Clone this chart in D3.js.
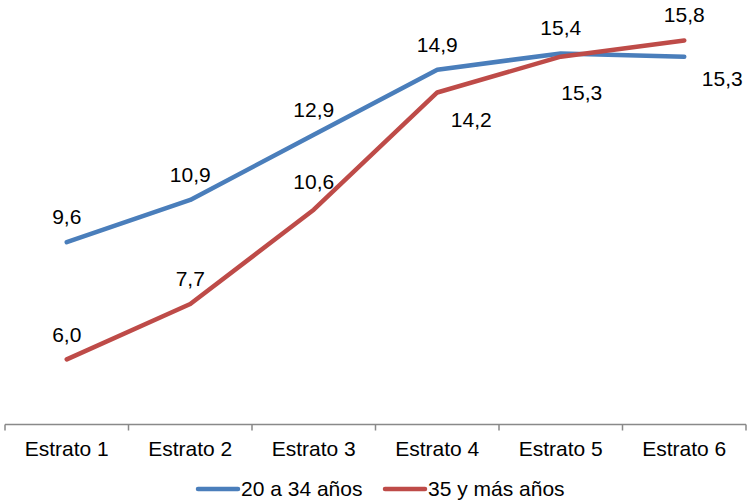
<!DOCTYPE html>
<html><head><meta charset="utf-8">
<script src="https://cdn.jsdelivr.net/npm/d3@7"></script>
<style>body{margin:0;background:#fff}svg{display:block;font-family:"Liberation Sans",Arial,sans-serif}</style>
</head><body><svg id="c" width="747" height="501"></svg>
<script>
const categories = ["Estrato 1","Estrato 2","Estrato 3","Estrato 4","Estrato 5","Estrato 6"];
const seriesNames = ["20 a 34 años","35 y más años"];
const young = [9.6, 10.9, 12.9, 14.9, 15.4, 15.3];
const older = [6.0, 7.7, 10.6, 14.2, 15.3, 15.8];
const colors = ["#4A7EBB","#BE4B48"];
// label placement offsets (dx, dy relative to point), per series
const labelOffsets = [
  [[0,-18],[0,-18],[0,-18],[0,-18],[0,-18],[38,29]],
  [[0,-17],[0,-18],[0,-21],[34,35],[21,43],[0,-18]]
];
const FS = 21;

const svg = d3.select("#c");
const x = d3.scaleBand().domain(categories).range([5,746]);
const y = d3.scaleLinear().domain([4,16]).range([424.5,33.9]);

const axis = svg.append("g").attr("transform","translate(0,424.5)")
  .call(d3.axisBottom(x).tickSize(0).tickPadding(0));
axis.attr("font-size",FS).attr("font-family","Liberation Sans, Arial, sans-serif");
axis.select(".domain").attr("stroke","#898989").attr("stroke-width",1.5).attr("d","M5,0H746");
axis.selectAll(".tick text").attr("fill","#000").attr("dy",null).attr("y",31.5);
// boundary tick marks
const bounds = categories.map(c=>x(c)).concat([x.range()[1]]);
axis.selectAll("line.bt").data(bounds).enter().append("line").attr("class","bt")
  .attr("x1",d=>d).attr("x2",d=>d).attr("y1",0).attr("y2",6).attr("stroke","#898989").attr("stroke-width",1.5);

const cx = c => x(c) + x.bandwidth()/2;
const line = d3.line().x((d,i)=>cx(categories[i])).y(d=>y(d));
[young, older].forEach((s,k)=>{
  svg.append("path").datum(s).attr("d",line).attr("fill","none")
    .attr("stroke",colors[k]).attr("stroke-width",4.5).attr("stroke-linejoin","round").attr("stroke-linecap","round");
});
[young, older].forEach((s,k)=>{
  svg.append("g").selectAll("text").data(s).enter().append("text")
    .attr("x",(d,i)=>cx(categories[i])+labelOffsets[k][i][0])
    .attr("y",(d,i)=>y(d)+labelOffsets[k][i][1])
    .attr("text-anchor","middle").attr("font-size",FS).attr("fill","#000")
    .text(d=>d.toFixed(1).replace(".",","));
});

// legend
const leg = svg.append("g");
const legX = [198, 385];
seriesNames.forEach((n,k)=>{
  leg.append("line").attr("x1",legX[k]).attr("x2",legX[k]+40).attr("y1",489).attr("y2",489)
    .attr("stroke",colors[k]).attr("stroke-width",4.5).attr("stroke-linecap","round");
  leg.append("text").attr("x",legX[k]+43).attr("y",496).attr("font-size",FS).attr("fill","#000").text(n);
});
</script></body></html>
